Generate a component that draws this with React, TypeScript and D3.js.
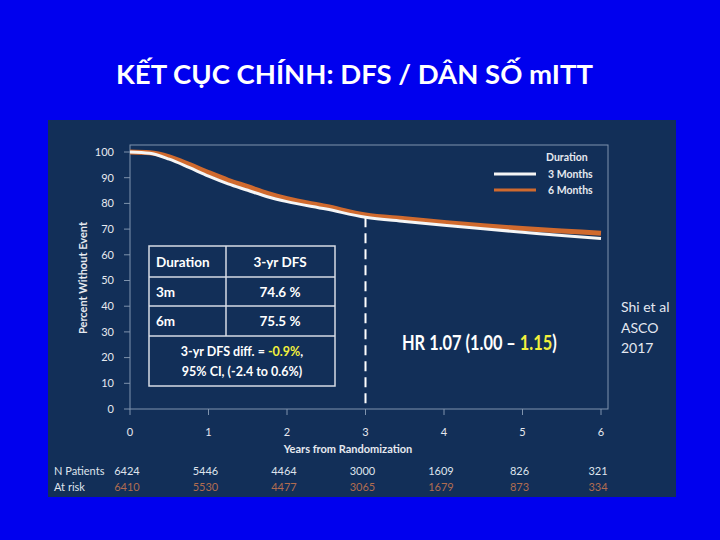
import React from "react";
import * as d3 from "d3";

const years = [0, 0.25, 0.5, 0.75, 1, 1.25, 1.5, 1.75, 2, 2.5, 3, 3.5, 4, 4.5, 5, 5.5, 6];
const dfs3Months = [100, 99.5, 97.2, 94, 90.6, 87.6, 85.1, 82.6, 80.7, 77.8, 74.6, 73.0, 71.5, 70.1, 68.8, 67.5, 66.3];
const dfs6Months = [100, 99.7, 98.1, 95.2, 92.0, 89.0, 86.5, 83.9, 81.8, 78.8, 75.5, 74.0, 72.6, 71.3, 70.2, 69.3, 68.4];
const xTicks = [0, 1, 2, 3, 4, 5, 6];
const yTicks = [0, 10, 20, 30, 40, 50, 60, 70, 80, 90, 100];
const nPatients3 = [6424, 5446, 4464, 3000, 1609, 826, 321];
const nPatients6 = [6410, 5530, 4477, 3065, 1679, 873, 334];
const seriesNames = ["3 Months", "6 Months"];

const FONT = "Lato, 'Open Sans', sans-serif";
const BG = "#0000ee";
const PANEL = "#122f58";
const ORANGE = "#d06a2e";
const WHITE = "#f5f5f5";
const AXIS = "#7f93ad";
const YELLOW = "#f2f03c";

export default function App() {
  const x = d3.scaleLinear().domain([0, 6]).range([130, 601]);
  const y = d3.scaleLinear().domain([0, 100]).range([409, 152]);
  const line = d3
    .line<number>()
    .x((_, i) => x(years[i]))
    .y((v) => y(v))
    .curve(d3.curveMonotoneX);

  const frame = { x0: 130, y0: 145, x1: 608, y1: 409 };

  return (
    <svg
      width={720}
      height={540}
      style={{ position: "absolute", left: 0, top: 0 }}
      fontFamily={FONT}
    >
      <rect x={0} y={0} width={720} height={540} fill={BG} />
      <text
        x={116}
        y={84}
        fill="#ffffff"
        fontSize={26}
        fontWeight={700}
        textLength={477}
        lengthAdjust="spacingAndGlyphs"
      >
        KẾT CỤC CHÍNH: DFS / DÂN SỐ mITT
      </text>

      <rect x={48} y={120} width={628} height={377} fill={PANEL} />

      {/* plot frame */}
      <rect
        x={frame.x0}
        y={frame.y0}
        width={frame.x1 - frame.x0}
        height={frame.y1 - frame.y0}
        fill="none"
        stroke={AXIS}
        strokeWidth={1}
      />

      {/* y axis */}
      {yTicks.map((t) => (
        <g key={"y" + t}>
          <line x1={124} x2={130} y1={y(t)} y2={y(t)} stroke={AXIS} />
          <text
            x={114}
            y={y(t)}
            dy="0.35em"
            textAnchor="end"
            fill="#e6e9ef"
            fontSize={11}
          >
            {t}
          </text>
        </g>
      ))}
      <text
        transform={`translate(87,278) rotate(-90)`}
        textAnchor="middle"
        fill="#e6e9ef"
        fontSize={11}
        fontWeight={700}
      >
        Percent Without Event
      </text>

      {/* x axis */}
      {xTicks.map((t) => (
        <g key={"x" + t}>
          <line x1={x(t)} x2={x(t)} y1={409} y2={415} stroke={AXIS} />
          <text
            x={x(t)}
            y={436}
            textAnchor="middle"
            fill="#e6e9ef"
            fontSize={11}
          >
            {t}
          </text>
        </g>
      ))}
      <text x={348} y={453} textAnchor="middle" fill="#e6e9ef" fontSize={11} fontWeight={700}>
        Years from Randomization
      </text>

      {/* dashed line at 3 years */}
      <line
        x1={x(3)}
        x2={x(3)}
        y1={y(74.6)}
        y2={409}
        stroke="#ffffff"
        strokeWidth={2}
        strokeDasharray="10 6"
      />

      {/* curves */}
      <path d={line(dfs6Months) || ""} fill="none" stroke={ORANGE} strokeWidth={5} />
      <path d={line(dfs3Months) || ""} fill="none" stroke={WHITE} strokeWidth={3} />

      {/* legend */}
      <text x={546} y={161} fill="#e6e9ef" fontSize={10.5} fontWeight={700}>
        Duration
      </text>
      <line x1={494} x2={536} y1={174} y2={174} stroke={WHITE} strokeWidth={3} />
      <text x={548} y={178} fill="#e6e9ef" fontSize={10.5} fontWeight={700}>
        {seriesNames[0]}
      </text>
      <line x1={494} x2={536} y1={190} y2={190} stroke={ORANGE} strokeWidth={3} />
      <text x={548} y={194} fill="#e6e9ef" fontSize={10.5} fontWeight={700}>
        {seriesNames[1]}
      </text>

      {/* table */}
      <g stroke="#d6dbe4" strokeWidth={1.5} fill="none">
        <rect x={149} y={246} width={186} height={140} />
        <line x1={149} x2={335} y1={277} y2={277} />
        <line x1={149} x2={335} y1={306} y2={306} />
        <line x1={149} x2={335} y1={336} y2={336} />
        <line x1={226} x2={226} y1={246} y2={336} />
      </g>
      <g fill="#ffffff" fontSize={13.5} fontWeight={700}>
        <text x={156} y={267}>Duration</text>
        <text x={280} y={267} textAnchor="middle">3-yr DFS</text>
        <text x={156} y={297}>3m</text>
        <text x={280} y={297} textAnchor="middle">74.6 %</text>
        <text x={156} y={326}>6m</text>
        <text x={280} y={326} textAnchor="middle">75.5 %</text>
        <text x={242} y={356} textAnchor="middle" fontSize={12.5}>
          3-yr DFS diff. = <tspan fill={YELLOW}>-0.9%</tspan>,
        </text>
        <text x={242} y={376} textAnchor="middle" fontSize={12.5}>
          95% CI, (-2.4 to 0.6%)
        </text>
      </g>

      {/* HR */}
      <g transform="translate(402,350) scale(0.82,1)">
        <text x={0} y={0} fill="#ffffff" fontSize={20} fontWeight={700}>
          HR 1.07 (1.00 – <tspan fill={YELLOW}>1.15</tspan>)
        </text>
      </g>

      {/* reference */}
      <g fill="#e4e8f0" fontSize={14}>
        <text x={621} y={312}>Shi et al</text>
        <text x={621} y={333}>ASCO</text>
        <text x={621} y={353}>2017</text>
      </g>

      {/* at-risk table */}
      <g fontSize={11}>
        <text x={54} y={475} fill="#dfe4ec">N Patients</text>
        <text x={54} y={491} fill="#dfe4ec">At risk</text>
        {nPatients3.map((n, i) => (
          <text key={"n3" + i} x={x(xTicks[i]) - 3} y={475} textAnchor="middle" fill="#dfe4ec">
            {n}
          </text>
        ))}
        {nPatients6.map((n, i) => (
          <text key={"n6" + i} x={x(xTicks[i]) - 3} y={491} textAnchor="middle" fill="#b06c50">
            {n}
          </text>
        ))}
      </g>
    </svg>
  );
}
